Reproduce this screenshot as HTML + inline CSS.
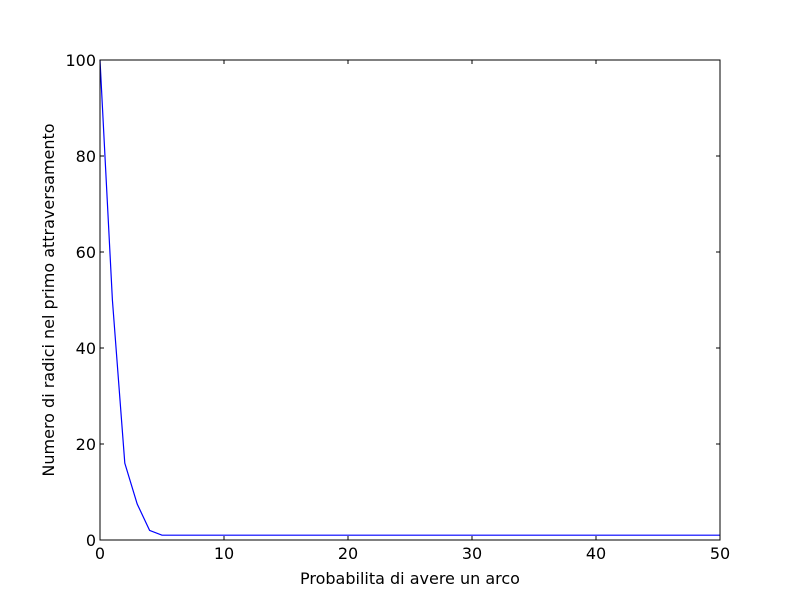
<!DOCTYPE html>
<html><head><meta charset="utf-8"><style>
body{margin:0;background:#fff}
svg{display:block;font-family:"DejaVu Sans",sans-serif}
</style></head><body>
<svg id="c" width="800" height="600"></svg>
<script>
const xs=[0,1,2,3,4,5,6,7,8,9,10,11,12,13,14,15,16,17,18,19,20,21,22,23,24,25,26,27,28,29,30,31,32,33,34,35,36,37,38,39,40,41,42,43,44,45,46,47,48,49,50];
const ys=[100,50,16,7.5,2,1,1,1,1,1,1,1,1,1,1,1,1,1,1,1,1,1,1,1,1,1,1,1,1,1,1,1,1,1,1,1,1,1,1,1,1,1,1,1,1,1,1,1,1,1,1];
const xTicks=[0,10,20,30,40,50];
const yTicks=[0,20,40,60,80,100];
const L=100,R=720,T=60,B=540;
const sx=v=>L+(v-0)/(50-0)*(R-L);
const sy=v=>B-(v-0)/(100-0)*(B-T);
const svg=document.getElementById('c');
const NS='http://www.w3.org/2000/svg';
function mk(t,a){const e=document.createElementNS(NS,t);for(const k in a)e.setAttribute(k,a[k]);svg.appendChild(e);return e;}
let p=mk('polyline',{points:xs.map((x,i)=>sx(x)+','+sy(ys[i])).join(' '),fill:'none',stroke:'#0000ff','stroke-width':1.2});


xTicks.forEach(v=>{const x=sx(v);
mk('line',{x1:x,x2:x,y1:B,y2:B-4,stroke:'#000'});mk('line',{x1:x,x2:x,y1:T,y2:T+4,stroke:'#000'});
const t=mk('text',{x:x,y:B+19,'text-anchor':'middle','font-size':16});t.textContent=v;

});
yTicks.forEach(v=>{const y=sy(v);
mk('line',{x1:L,x2:L+4,y1:y,y2:y,stroke:'#000'});mk('line',{x1:R,x2:R-4,y1:y,y2:y,stroke:'#000'});
const t=mk('text',{x:L-4,y:y+6,'text-anchor':'end','font-size':16});t.textContent=v;

});
let f=mk('rect',{x:L,y:T,width:R-L,height:B-T,fill:'none',stroke:'#000','stroke-width':1});


let xt=mk('text',{x:410,y:584,'text-anchor':'middle','font-size':16});xt.textContent='Probabilita di avere un arco';


let yt=mk('text',{x:54,y:300,'text-anchor':'middle','font-size':16,transform:'rotate(-90 54 300)'});yt.textContent='Numero di radici nel primo attraversamento';


</script>
</body></html>
